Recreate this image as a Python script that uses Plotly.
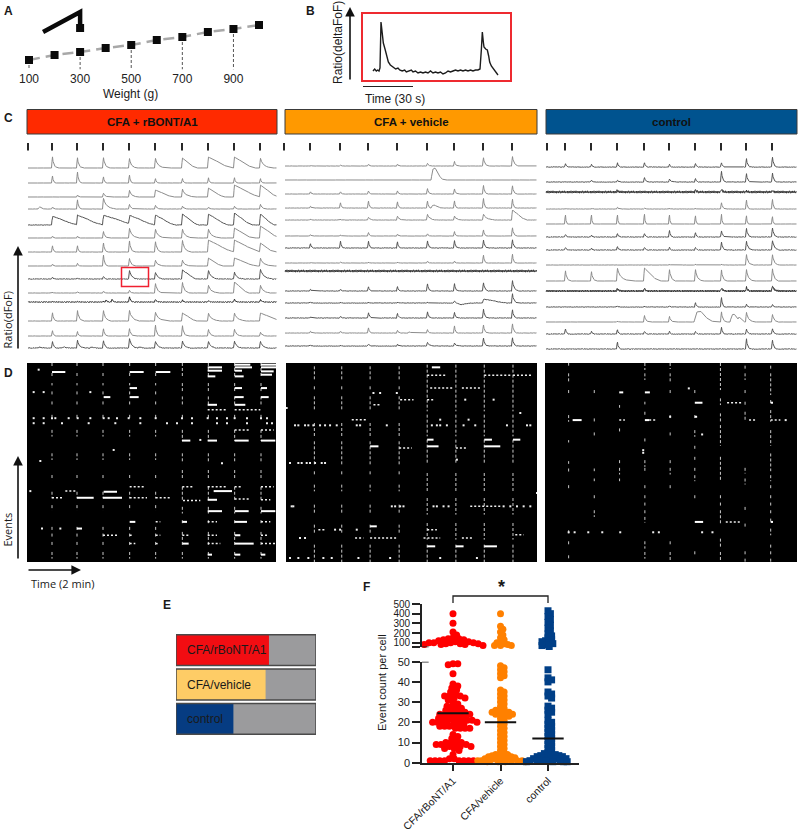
import numpy as np
import plotly.graph_objects as go

# ---------- panel A ----------
WEIGHTS = [100, 200, 300, 400, 500, 600, 700, 800, 900, 1000]
RESPONSE = [12, 17, 20, 24, 27, 32, 35, 40, 43, 47]
WEIGHT_TICKS = [100, 300, 500, 700, 900]
ICON_X = [155, 300, 300]
ICON_Y = [40, 60, 44]
ICON_SQUARE = (300, 44)

# ---------- panel B ----------
B_TIME = [6, 7, 8, 8.8, 9.6, 10.2, 10.8, 11.4, 12.2, 13.2, 14.2, 15.2, 16.4, 18.2, 19.6, 21, 22, 23.5, 25, 26, 27.5, 29, 30, 31.5,
          33, 34.5, 36, 37.5, 39, 40.5, 42, 43.5, 45, 46.5, 48, 49.5, 51, 52.5, 54, 55.5, 57, 58.5, 60, 61.5, 63, 64.5, 66, 67.5,
          69, 70.2, 71, 71.6, 72.2, 72.6, 73.6, 74.6, 75.4, 76, 77, 78, 79, 80, 81]
B_VALUE = [9, 11, 9, 10, 9, 12, 58, 47, 37, 31, 25, 18, 15, 13, 11, 12, 10, 9, 10, 8, 9, 10, 8, 9,
           7, 8, 7, 8, 7, 9, 7, 8, 7, 8, 6, 7, 9, 8, 9, 10, 9, 10, 9, 10, 9, 10, 9, 10,
           10, 11, 30, 48, 38, 33, 31, 30, 24, 18, 14, 12, 10, 7, 5]

# ---------- panel C: stimulus times, trace rows, transient sizes ----------
RED_STIMS = [28, 52, 77, 103, 129, 155, 182, 208, 234, 260]
RED_ROWS = [168, 183, 197, 209, 225, 238, 252, 266, 279, 293, 302, 321, 336, 348]
RED_AMPS = [
    [12, 11, 11, 10, 10, 10, 11, 11, 10],
    [8, 12, 7, 9, 5, 5, 6, 6, 5],
    [0, 2, 4, 7, 7, 8, 9, 12, 12],
    [2, 10, 11, 5, 4, 3, 2, 3, 5],
    [9, 10, 10, 10, 10, 11, 11, 12, 11],
    [2, 2, 7, 10, 9, 9, 9, 10, 12],
    [7, 7, 10, 12, 11, 12, 12, 12, 9],
    [2, 3, 12, 8, 6, 6, 8, 8, 8],
    [2, 1, 3, 9, 7, 9, 9, 7, 10],
    [1, 1, 2, 3, 10, 11, 8, 11, 8],
    [0.5, 0.5, 1, 6, 3, 2, 2, 3, 3],
    [9, 11, 11, 11, 9, 8, 8, 8, 8],
    [6, 5, 8, 8, 12, 11, 7, 7, 4],
    [7, 8, 8, 10, 7, 7, 7, 7, 7],
]
RED_WIDTHS = [
    [5, 5, 6, 7, 10, 14, 24, 20, 12],
    [3, 4, 3, 3, 3, 3, 3, 3, 3],
    [4, 4, 6, 8, 18, 12, 16, 26, 18],
    [4, 4, 12, 5, 5, 5, 4, 4, 6],
    [26, 26, 34, 26, 20, 16, 20, 18, 14],
    [3, 3, 5, 10, 10, 10, 12, 18, 20],
    [3, 3, 4, 5, 6, 8, 26, 26, 14],
    [3, 3, 4, 6, 8, 8, 14, 22, 12],
    [3, 3, 3, 8, 8, 14, 10, 9, 12],
    [3, 3, 3, 4, 7, 7, 10, 14, 10],
    [3, 3, 3, 4, 4, 4, 4, 4, 4],
    [4, 6, 7, 10, 12, 14, 12, 12, 22],
    [3, 3, 4, 5, 4, 5, 6, 7, 6],
    [4, 7, 5, 8, 8, 8, 8, 8, 8],
]
RED_NOISE = [.05, .05, .05, .1, .2, .05, .1, .05, .3, .1, .45, .1, .1, .3]
RED_BUMPS = [(3, 38, 2, 7), (10, 105, 2, 4), (10, 111, 2.5, 4), (13, 38, 1, 8), (13, 62, 1, 8), (13, 90, 1, 8), (13, 138, 1, 7)]

ORANGE_STIMS = [284, 310, 340, 368, 397, 427, 454, 483, 512]
ORANGE_ROWS = [166, 180, 194, 208, 220, 236, 248, 263, 271, 291, 303, 318, 333, 346]
ORANGE_AMPS = [
    [1, 1, 2, 2, 3, 5, 9, 10],
    [0, 0, 0, 0, 0, 0, 0, 0],
    [2.5, 2.5, 3.5, 3.5, 6, 5.5, 9.5, 9],
    [2, 6, 8, 7, 8, 8, 11, 10],
    [1, 1, 3, 4, 6, 4, 6, 10],
    [1.5, 1.5, 4, 2, 2.5, 5, 7, 9],
    [5, 8, 8, 7, 8, 8, 9, 9],
    [1, 1, 1, 1, 2, 2, 9, 10],
    [0, 0, 0, 0, 0, 0, 0, 0],
    [2, 2, 5, 5, 8, 8, 9, 11],
    [1, 1, 1, 1, 1, 2, 4, 10],
    [1, 2, 6, 5, 7, 6, 10, 9],
    [2, 2, 6, 3, 4, 8, 9, 10],
    [1, 1, 2, 2, 4, 3, 9, 9],
]
ORANGE_WIDTHS = [
    [3, 3, 3, 3, 4, 4, 5, 6],
    [3, 3, 3, 3, 3, 3, 3, 3],
    [3, 3, 3, 3, 4, 4, 4, 4],
    [3, 3, 3, 3, 3, 3, 3, 3],
    [3, 3, 6, 6, 8, 8, 12, 14],
    [3, 3, 3, 3, 3, 3, 3, 4],
    [3, 3, 3, 3, 4, 4, 4, 4],
    [3, 3, 3, 3, 3, 3, 3, 3],
    [3, 3, 3, 3, 3, 3, 3, 3],
    [3, 3, 3, 3, 4, 4, 5, 6],
    [3, 3, 3, 3, 3, 3, 24, 5],
    [3, 3, 4, 4, 4, 4, 4, 4],
    [3, 3, 3, 3, 3, 3, 4, 4],
    [3, 3, 3, 3, 6, 6, 4, 4],
]
ORANGE_NOISE = [.1, .03, .1, .15, .15, .08, .25, .1, 1.2, .2, .2, .25, .15, .2]
ORANGE_BUMPS = [(1, 431, 12, 14), (3, 431, 3, 12), (10, 457, -1.5, 18), (12, 408, 1, 6)]

BLUE_STIMS = [547, 565, 591, 617, 644, 669, 695, 721, 746, 772]
BLUE_ROWS = [167, 182, 192, 209, 224, 237, 250, 265, 281, 291, 307, 322, 334, 349]
BLUE_AMPS = [
    [4, 3, 5, 5, 3, 4, 5, 9, 11],
    [0, 2, 2, 5, 3, 4, 12, 9, 10],
    [0, 0, 2, 0, 0, 3, 4, 1, 2],
    [1, 1, 2, 1, 1, 1, 7, 10, 11],
    [11, 11, 11, 12, 11, 10, 12, 10, 9],
    [3, 2, 4, 4, 7, 5, 7, 9, 10],
    [3, 2, 4, 3, 3, 3, 9, 9, 10],
    [0, 0, 0, 0, 1, 1, 1, 11, 11],
    [11, 10, 13, 13, 12, 12, 12, 12, 13],
    [0, 0, 3, 3, 0, 0, 4, 4, 6],
    [0, 0, 1, 1, 1, 5, 11, 3, 3],
    [0, 0, 1, 7, 6, 0, 11, 10, 8],
    [6, 3, 5, 3, 3, 3, 8, 5, 6],
    [0, 0, 8, 0, 0, 0, 0, 11, 10],
]
BLUE_WIDTHS = [
    [3, 3, 3, 3, 3, 3, 3, 4, 4],
    [3, 3, 4, 4, 6, 3, 4, 4, 4],
    [3, 3, 3, 3, 3, 3, 3, 3, 3],
    [3, 3, 3, 3, 3, 3, 4, 3, 3],
    [2, 2, 2, 2, 2, 2, 2, 2, 2],
    [3, 3, 3, 3, 4, 3, 4, 5, 5],
    [3, 3, 3, 3, 3, 3, 4, 6, 7],
    [3, 3, 3, 3, 3, 3, 3, 6, 6],
    [5, 5, 13, 15, 6, 7, 5, 7, 6],
    [3, 3, 4, 4, 3, 3, 4, 4, 6],
    [3, 3, 3, 3, 3, 3, 3, 3, 3],
    [3, 3, 3, 5, 5, 3, 5, 8, 6],
    [3, 3, 3, 3, 3, 3, 3, 5, 4],
    [3, 3, 3, 3, 3, 3, 3, 4, 4],
]
BLUE_NOISE = [.25, .2, 1.2, .15, .05, .3, .3, .1, .05, 1, .2, .05, .3, .3]
BLUE_BUMPS = [(11, 694, 11, 22), (11, 730, 8, 14), (11, 738, 3, 8)]

WOBBLE = [.3, -.6, .9, -.2, -1, .5, 1, -.7, .1, .8, -.9, .4, -.3, .7, -1, .2, .9, -.5, -.1, .6, -.8, 1, -.4]
SHARP_T, SHARP_Y = [0, .12, .3, .55, 1], [1, .55, .3, .12, 0]
BROAD_T, BROAD_Y = [0, .1, .35, .7, 1], [1, .88, .62, .2, 0]
BUMP_T, BUMP_Y = [0, .12, .3, .5, .75, 1], [0, .9, 1, .5, .1, 0]

# ---------- panel D: frame, cell (image frame units) ----------
D1_COLS = [155, 230, 308, 388, 466, 546, 624, 703, 782]
D1_EARLY = [(25, 40), (55, 70), (85, 92), (110, 120), (140, 150), (180, 195), (225, 245), (295, 315), (360, 375), (410, 430),
            (450, 465), (515, 525), (535, 545), (560, 570), (590, 610)]
D1_LATE = [(25, 70), (85, 110), (125, 155), (180, 195), (225, 258), (295, 325), (345, 375), (395, 435), (455, 475), (495, 505),
           (530, 575), (590, 610)]
D1_SOLID = [(155, 195, 52), (388, 430, 52), (466, 510, 52), (622, 665, 38), (703, 755, 38), (782, 827, 38), (703, 750, 30),
            (782, 827, 30), (622, 665, 48), (703, 725, 48), (782, 820, 50), (622, 645, 65), (703, 730, 65), (782, 815, 60),
            (388, 410, 100), (782, 800, 100), (703, 725, 100), (388, 415, 127), (310, 330, 127), (703, 730, 127), (782, 805, 127),
            (622, 650, 150), (703, 735, 150), (545, 570, 257), (622, 650, 257), (703, 745, 257), (782, 825, 257),
            (640, 695, 408), (230, 280, 428), (308, 365, 428), (310, 350, 410), (622, 650, 434), (622, 665, 468),
            (703, 745, 468), (782, 825, 468), (388, 405, 500), (546, 560, 500), (703, 740, 500), (230, 245, 520),
            (703, 720, 540), (703, 760, 565), (546, 565, 565), (703, 720, 598), (622, 635, 598), (782, 795, 598)]
D1_DOTTED = [(155, 185, 428), (388, 440, 428), (466, 510, 428), (548, 600, 436), (703, 750, 432), (782, 810, 434),
             (195, 225, 408), (388, 430, 395), (546, 580, 395), (622, 680, 395), (703, 725, 395), (782, 820, 395),
             (308, 350, 540), (388, 400, 540), (466, 480, 540), (546, 565, 540), (622, 650, 540), (782, 800, 540),
             (388, 405, 565), (466, 475, 565), (622, 660, 565), (782, 825, 565), (622, 680, 165), (703, 780, 165),
             (782, 820, 225), (466, 480, 500), (622, 650, 500), (782, 810, 500), (703, 745, 225)]
D1_DOT_X = [100, 130, 155, 165, 205, 232, 270, 310, 325, 350, 385, 420, 466, 545, 575, 622, 650, 680, 703, 740, 782, 800,
            100, 130, 185, 265, 345, 420, 500, 530, 575, 650, 680, 740, 800, 815, 115, 120, 180, 90, 125, 340, 600, 665, 100, 130, 270]
D1_DOT_Y = [190, 190, 190, 190, 190, 190, 190, 190, 190, 190, 190, 190, 190, 190, 190, 190, 190, 190, 190, 190, 190, 190,
            205, 205, 205, 205, 205, 205, 205, 205, 205, 205, 205, 205, 205, 205, 45, 318, 520, 408, 520, 285, 255, 325, 112, 112, 112]

D2_COLS = [103, 185, 270, 357, 441, 527, 612, 698]
D2_EARLY = [(25, 70), (85, 100), (115, 155), (195, 235), (250, 320), (340, 350), (380, 400), (440, 470), (500, 530), (560, 612)]
D2_LATE = [(20, 120), (125, 160), (170, 235), (245, 320), (345, 400), (420, 470), (495, 545), (560, 612)]
D2_SOLID = [(455, 480, 28), (612, 635, 245), (441, 460, 245), (698, 720, 245), (270, 295, 265), (441, 475, 265), (612, 660, 265),
            (270, 290, 505), (527, 550, 565), (612, 650, 565), (441, 465, 565)]
D2_DOTTED = [(441, 500, 52), (612, 690, 52), (698, 755, 52), (450, 520, 90), (545, 600, 90), (357, 395, 270), (527, 560, 270),
             (570, 660, 445), (115, 135, 515), (225, 250, 540), (270, 350, 540), (430, 480, 540), (545, 580, 540), (705, 730, 530),
             (215, 260, 185), (441, 465, 125), (360, 400, 125), (280, 300, 140), (441, 470, 515)]
D2_DOT_X = [30, 55, 65, 80, 90, 105, 125, 135, 45, 55, 75, 85, 100, 120, 135, 150, 170, 230, 240, 320, 455, 470, 480, 500, 550, 585,
            680, 740, 750, 35, 40, 335, 345, 360, 370, 460, 470, 490, 505, 670, 690, 710, 730, 750, 30, 55, 85, 130, 155, 235, 330, 480,
            590, 60, 75, 530, 280, 300, 350, 640, 555, 165, 180, 230, 20, 480, 565, 720, 770]
D2_DOT_Y = [315, 315, 315, 315, 315, 315, 315, 315, 202, 202, 202, 202, 202, 202, 202, 202, 202, 202, 202, 202, 202, 202, 202, 202, 202, 202,
            202, 202, 202, 445, 445, 445, 445, 445, 445, 445, 445, 445, 445, 445, 445, 445, 445, 445, 600, 600, 600, 600, 600, 600, 600, 600,
            600, 540, 540, 305, 105, 105, 105, 125, 125, 515, 515, 515, 150, 185, 185, 165, 405]

D3_STREAKS = {
    86: [(14, 22), (45, 70), (95, 105), (170, 190), (245, 252), (308, 316), (330, 345), (380, 390), (515, 525), (548, 557), (590, 600)],
    163: [(95, 105), (180, 190), (222, 232), (330, 338), (360, 368), (410, 420), (455, 475)],
    239: [(140, 148), (210, 222), (305, 315), (328, 348), (360, 368)],
    315: [(14, 35), (45, 65), (130, 138), (160, 175), (240, 252), (305, 325), (328, 340), (380, 390), (410, 420), (432, 442),
          (455, 465), (475, 492), (548, 570), (580, 600)],
    391: [(14, 32), (45, 75), (95, 105), (170, 180), (222, 232), (305, 315), (328, 348), (380, 390), (548, 558), (580, 608)],
    465: [(95, 105), (170, 180), (215, 235), (262, 275), (295, 305), (328, 338), (350, 368), (410, 420), (578, 588)],
    542: [(14, 95), (120, 140), (165, 190), (200, 262), (295, 368), (410, 420), (432, 442), (455, 495), (540, 570), (580, 610)],
    616: [(22, 32), (45, 65), (95, 110), (130, 140), (160, 190), (328, 345), (360, 378), (445, 455), (495, 505), (578, 590), (600, 610)],
    693: [(22, 32), (45, 110), (125, 140), (155, 190), (215, 262), (285, 338), (350, 368), (380, 390), (410, 420), (432, 442),
          (455, 465), (480, 495), (510, 530), (558, 570), (578, 590), (600, 610)],
}
D3_SOLID = [(238, 250, 102), (315, 330, 102), (465, 488, 133), (98, 125, 185), (315, 328, 185), (465, 472, 175), (465, 490, 490),
            (693, 700, 133), (693, 700, 490)]
D3_DOTTED = [(562, 605, 133), (238, 255, 185), (328, 352, 185), (628, 648, 185), (693, 722, 185), (558, 603, 490)]
D3_DOT_X = [86, 104, 145, 187, 241, 340, 357, 487, 518, 310, 310, 447, 487, 738, 391]
D3_DOT_Y = [521, 521, 521, 521, 521, 521, 521, 521, 521, 275, 283, 90, 228, 185, 175]

# ---------- panel E ----------
E_GROUPS = ["CFA/rBoNT/A1", "CFA/vehicle", "control"]
E_RESPONDING = [66.4, 64, 41]
E_TOTAL = [100, 100, 100]
E_COLORS = ["#F20D12", "#FECC66", "#063C82"]

# ---------- panel F ----------
F_LABELS = ["CFA/rBoNT/A1", "CFA/vehicle", "control"]
F_MEANS = [24.5, 20, 12]
F_RED = [400, 300, 210, 180, 150, 140, 140, 130, 130, 120, 110, 110, 100, 100, 100, 100, 90, 90, 90, 80, 80, 80, 70, 70,
         49, 49, 48.5, 44, 39, 38, 37, 36, 35, 34, 33, 33, 33, 32, 32, 31, 30, 29, 28, 28, 27, 27, 26, 26, 25, 25, 25, 24, 24, 24, 24,
         23, 23, 23, 22, 22, 22, 21, 21, 21, 21, 21, 20, 20, 20, 20, 20, 19, 19, 19, 18, 18, 18, 17, 17, 17, 17, 14, 13, 12, 11, 10, 10,
         10, 9, 9, 9, 9, 8, 8, 8, 7, 7, 6, 4, 2, 2, 1, 1, 1, 1, 1, 1, 1, 1]
F_ORANGE = [400, 270, 240, 210, 180, 150, 130, 110, 100, 90, 80, 70, 70, 70,
            48, 47, 46, 45, 44, 43, 42, 36, 35, 34, 33, 32, 31, 30, 29, 28, 27, 26, 26, 25, 25, 25, 24, 24, 24, 23, 23, 22, 21, 20, 19, 18,
            17, 16, 15, 14, 13, 12, 11, 10, 9, 8, 7, 6, 5, 4, 4, 4, 3.5, 3, 3, 3, 2.5, 2.5, 2, 2, 2, 1.5, 1.5, 1, 1, 1, 1, 1, 0.5, 0.5, 0.5, 0.5]
F_BLUE = [430, 400, 370, 340, 310, 280, 250, 220, 190, 170, 150, 130, 120, 110, 100, 90, 80, 70, 60,
          46, 42, 41, 40, 35, 34, 33, 32, 28, 27, 26, 25, 24, 21, 20, 19, 18, 17, 16, 15, 14, 13, 12, 11, 10, 9, 8, 7, 6, 5, 4.5, 4, 4, 3.5, 3.5,
          3, 3, 3, 2.5, 2.5, 2, 2, 2, 1.5, 1.5, 1, 1, 1, 1, 0.5, 0.5, 0.5, 0.5]
F_SWARM_DIST = [4.2, 3.6, 3.2]

FONT = "Liberation Sans"
W, H = 798, 832
layout = dict(width=W, height=H, margin=dict(l=0, r=0, t=0, b=0, pad=0, autoexpand=False), showlegend=False, paper_bgcolor="white",
              plot_bgcolor="rgba(0,0,0,0)", barmode="overlay", bargap=0.1, font=dict(family=FONT, size=12, color="#1a1a1a"))
fig = go.Figure()
annotations, shapes = [], []
axis_count = [0]


def axes(x0, x1, y0, y1, xrange, yrange, xopts=None, yopts=None):
    axis_count[0] += 1
    n = axis_count[0]
    xa, ya = ("x%d" % n, "y%d" % n)
    base = dict(showgrid=False, zeroline=False, showticklabels=False, ticks="", showline=False)
    layout["xaxis%d" % n] = {**base, "domain": [x0 / W, x1 / W], "range": xrange, "anchor": ya, **(xopts or {})}
    layout["yaxis%d" % n] = {**base, "domain": [1 - y1 / H, 1 - y0 / H], "range": yrange, "anchor": xa, **(yopts or {})}
    return xa, ya


def text(px, py, s, size=12, bold=False, angle=0, anchor="center", color="#1a1a1a", family=FONT):
    annotations.append(dict(xref="paper", yref="paper", x=px / W, y=1 - py / H, text=("<b>%s</b>" % s) if bold else s,
                            showarrow=False, xanchor=anchor, yanchor="middle", textangle=angle,
                            font=dict(size=size, color=color, family=family)))


def arrow(x0, y0, x1, y1, width=1.6):
    annotations.append(dict(xref="paper", yref="paper", x=x1 / W, y=1 - y1 / H, ax=x0 - x1, ay=y0 - y1, axref="pixel", ayref="pixel",
                            text="", showarrow=True, arrowhead=2, arrowsize=1.2, arrowwidth=width, arrowcolor="#111"))


for label, px, py in [("A", 8, 11), ("B", 310, 11), ("C", 8, 118), ("D", 8, 373), ("E", 167, 605), ("F", 366, 587)]:
    text(px, py, label, size=12, bold=True)

# ----- A -----
xa, ya = axes(15, 275, 5, 69.5, [45.2, 1062.6], [2.5, 67],
              dict(showticklabels=True, tickvals=WEIGHT_TICKS, ticks="", ticklen=0, tickfont=dict(size=12, color="#222", family=FONT)))
for w, r in zip(WEIGHTS, RESPONSE):
    if w in WEIGHT_TICKS:
        fig.add_trace(go.Scatter(x=[w, w], y=[r, 2.5], mode="lines", line=dict(color="#555", width=1, dash="3px,2px"), xaxis=xa, yaxis=ya))
fig.add_trace(go.Scatter(x=WEIGHTS, y=RESPONSE, mode="lines", line=dict(color="#a8a8a8", width=2.5, dash="11px,6px"), xaxis=xa, yaxis=ya))
fig.add_trace(go.Scatter(x=WEIGHTS, y=RESPONSE, mode="markers", marker=dict(symbol="square", size=8, color="#0a0a0a"), xaxis=xa, yaxis=ya))
fig.add_trace(go.Scatter(x=ICON_X, y=ICON_Y, mode="lines", line=dict(color="#0a0a0a", width=4.5), xaxis=xa, yaxis=ya))
fig.add_trace(go.Scatter(x=[ICON_SQUARE[0]], y=[ICON_SQUARE[1]], mode="markers", marker=dict(symbol="square", size=8, color="#0a0a0a"), xaxis=xa, yaxis=ya))
text(130, 94, "Weight (g)", size=12)

# ----- B -----
xa, ya = axes(363, 510, 14, 80, [0, 88.2], [0, 66],
              dict(showline=True, mirror=True, linecolor="#EE2A30", linewidth=1.5),
              dict(showline=True, mirror=True, linecolor="#EE2A30", linewidth=1.5))
fig.add_trace(go.Scatter(x=B_TIME, y=B_VALUE, mode="lines", line=dict(color="#1c1c1c", width=1.4), xaxis=xa, yaxis=ya))
arrow(350, 81, 350, 7)
text(338, 43, "Ratio(deltaFoF)", size=12, angle=-90)
shapes.append(dict(type="line", xref="paper", yref="paper", x0=363 / W, x1=413 / W, y0=1 - 86.5 / H, y1=1 - 86.5 / H, line=dict(color="#222", width=1.2)))
text(363, 98.5, "Time (30 s)", size=12, anchor="left")

# ----- C -----
for x0, x1, col, lab in [(27, 277, "#FF2A00", "CFA + rBONT/A1"), (285, 537, "#FF9900", "CFA + vehicle"), (546, 797, "#00538F", "control")]:
    shapes.append(dict(type="rect", xref="paper", yref="paper", x0=x0 / W, x1=x1 / W, y0=1 - 134 / H, y1=1 - 109.5 / H,
                       fillcolor=col, line=dict(color="#3a3a3a", width=1)))
    text((x0 + x1) / 2, 122, lab, size=11.5, bold=True, color="#111")

xa, ya = axes(0, W, 140, 353, [0, W], [353, 140])


def signal(t, base, amps, widths, stims, bumps, noise):
    s = np.zeros_like(t)
    for st, a, w in zip(stims, amps, widths):
        if a == 0:
            continue
        tk, yk = (BROAD_T, BROAD_Y) if w >= 14 else (SHARP_T, SHARP_Y)
        rise = np.interp(t, [st - 0.5, st + 0.4], [0, 1])
        decay = np.interp(t, [st + 0.4 + v * w for v in tk], yk)
        s = np.maximum(s, a * rise * decay)
    for b_x, b_a, b_w in bumps:
        s = s + b_a * np.interp(t, [b_x + v * b_w for v in BUMP_T], BUMP_Y)
    wob = np.array([WOBBLE[i % len(WOBBLE)] for i in range(len(t))])
    return base - s + noise * wob


for stims, rows, amps, widths, noises, bumps, x0, x1 in [
    (RED_STIMS[1:], RED_ROWS, RED_AMPS, RED_WIDTHS, RED_NOISE, RED_BUMPS, 28, 277),
    (ORANGE_STIMS[1:], ORANGE_ROWS, ORANGE_AMPS, ORANGE_WIDTHS, ORANGE_NOISE, ORANGE_BUMPS, 285, 537),
    (BLUE_STIMS[1:], BLUE_ROWS, BLUE_AMPS, BLUE_WIDTHS, BLUE_NOISE, BLUE_BUMPS, 546, 797),
]:
    t = np.arange(x0, x1, 0.5)
    for i, row in enumerate(rows):
        b = [(bx, ba, bw) for (r, bx, ba, bw) in bumps if r == i]
        n = noises[i]
        color = "#333333" if n >= .4 else ("#555555" if n >= .2 else "#8c8c8c")
        fig.add_trace(go.Scatter(x=t, y=signal(t, row, amps[i], widths[i], stims, b, n), mode="lines",
                                 line=dict(color=color, width=1), xaxis=xa, yaxis=ya, hoverinfo="skip"))

for stims in (RED_STIMS, ORANGE_STIMS, BLUE_STIMS):
    tx, ty = [], []
    for s in stims:
        tx += [s, s, None]
        ty += [143, 150.5, None]
    fig.add_trace(go.Scatter(x=tx, y=ty, mode="lines", line=dict(color="#111", width=1.8), xaxis=xa, yaxis=ya))
shapes.append(dict(type="rect", xref=xa, yref=ya, x0=121.5, x1=148.5, y0=267.5, y1=286.5, line=dict(color="#F02030", width=1.5)))
arrow(18, 350, 18, 246)
text(6.5, 320, "Ratio(dFoF)", size=11, angle=-90, family="Open Sans")


# ----- D -----
def raster(px0, px1, xr, yr, cols_segments, solid, dotted, dx, dy):
    xa, ya = axes(px0, px1, 363, 562, xr, yr)
    shapes.append(dict(type="rect", xref=xa + " domain", yref=ya + " domain", x0=0, x1=1, y0=0, y1=1, fillcolor="black",
                       line=dict(width=0), layer="below"))
    vx, vy = [], []
    for col, segs in cols_segments:
        for a, b in segs:
            vx += [col, col, None]
            vy += [a, b, None]
    fig.add_trace(go.Scatter(x=vx, y=vy, mode="lines", line=dict(color="#e0e0e0", width=0.9, dash="3px,2px"), xaxis=xa, yaxis=ya, hoverinfo="skip"))
    sx, sy = [], []
    for a, b, c in solid:
        sx += [a, b, None]
        sy += [c, c, None]
    fig.add_trace(go.Scatter(x=sx, y=sy, mode="lines", line=dict(color="white", width=2), xaxis=xa, yaxis=ya, hoverinfo="skip"))
    sx, sy = [], []
    for a, b, c in dotted:
        sx += [a, b, None]
        sy += [c, c, None]
    fig.add_trace(go.Scatter(x=sx, y=sy, mode="lines", line=dict(color="#f0f0f0", width=1.5, dash="2px,2px"), xaxis=xa, yaxis=ya, hoverinfo="skip"))
    fig.add_trace(go.Scatter(x=dx, y=dy, mode="markers", marker=dict(symbol="square", size=2, color="#eeeeee", line=dict(width=0)), xaxis=xa, yaxis=ya, hoverinfo="skip"))


raster(27, 276, [80, 827], [620, 25], [(c, D1_EARLY if i < 5 else D1_LATE) for i, c in enumerate(D1_COLS)], D1_SOLID, D1_DOTTED, D1_DOT_X, D1_DOT_Y)
raster(286, 537, [18, 770], [612, 15], [(c, D2_EARLY if i < 4 else D2_LATE) for i, c in enumerate(D2_COLS)], D2_SOLID, D2_DOTTED, D2_DOT_X, D2_DOT_Y)
raster(545, 797, [15, 772], [610, 14], list(D3_STREAKS.items()), D3_SOLID, D3_DOTTED, D3_DOT_X, D3_DOT_Y)
arrow(18, 560, 18, 456)
text(6.5, 530, "Events", size=11, angle=-90, family="Open Sans")
arrow(27, 570, 81, 570)
text(29, 583, "Time (2 min)", size=11, anchor="left", family="Open Sans")

# ----- E -----
xa, ya = axes(176, 316, 633, 736, [0, 100], [2.5, -0.5])
fig.add_trace(go.Bar(y=[0, 1, 2], x=E_TOTAL, orientation="h", marker=dict(color="#9B9B9D", line=dict(width=0)), xaxis=xa, yaxis=ya))
fig.add_trace(go.Bar(y=[0, 1, 2], x=E_RESPONDING, orientation="h", marker=dict(color=E_COLORS, line=dict(width=0)), xaxis=xa, yaxis=ya))
fig.add_trace(go.Bar(y=[0, 1, 2], x=E_TOTAL, orientation="h", marker=dict(color="rgba(0,0,0,0)", line=dict(color="#4a4a4a", width=1.5)), xaxis=xa, yaxis=ya))
for i, g in enumerate(E_GROUPS):
    annotations.append(dict(xref=xa, yref=ya, x=6.5, y=i, text=g, showarrow=False, xanchor="left", font=dict(size=12, color="#1a1a1a", family=FONT)))


# ----- F -----
def swarm(values, min_dist, step=1.2):
    placed, out = [], []
    for v in values:
        py = v * 2.02 if v <= 50 else 120 + (v - 52) * 0.0975
        k = 0
        while True:
            off = ((k + 1) // 2) * step * (1 if k % 2 else -1)
            if all((off - a) ** 2 + (py - b) ** 2 >= min_dist ** 2 for a, b in placed):
                break
            k += 1
        placed.append((off, py))
        out.append(off / 47.5)
    return out


XR = [(422 - 453) / 47.5, (579 - 453) / 47.5]
tick_font = dict(size=11, color="#1a1a1a", family=FONT)
yline = dict(showline=True, linecolor="#222", linewidth=1.6, ticks="outside", ticklen=8, tickwidth=1.5, tickcolor="#222",
             showticklabels=True)
xlow, ylow = axes(422, 579, 661.7, 762.7, XR, [0, 50],
                  dict(showline=True, linecolor="#222", linewidth=1.6, ticks="outside", ticklen=6, tickwidth=1.5, tickcolor="#222",
                       tickvals=[0, 1, 2], ticktext=F_LABELS, showticklabels=True, tickangle=-45,
                       tickfont=dict(size=10.5, color="#1a1a1a", family=FONT)),
                  dict(tickvals=[0, 10, 20, 30, 40, 50], tickfont=tick_font, **yline))
xup, yup = axes(422, 579, 604, 647.3, XR, [52, 500], None,
                dict(tickvals=[52, 100, 200, 300, 400, 500], ticktext=["", "100", "200", "300", "400", "500"],
                     tickfont=dict(size=10, color="#1a1a1a", family=FONT), **yline))
for i, (vals, col, sym) in enumerate([(F_RED, "#FF0000", "circle"), (F_ORANGE, "#FF8000", "circle"), (F_BLUE, "#003F87", "square")]):
    off = swarm(vals, F_SWARM_DIST[i])
    hi = [v > 50 for v in vals]
    marker = dict(symbol=sym, size=7, color=col, line=dict(width=0))
    fig.add_trace(go.Scatter(x=[i + o for o, h in zip(off, hi) if h], y=[v for v, h in zip(vals, hi) if h], mode="markers", marker=marker, xaxis=xup, yaxis=yup, cliponaxis=False))
    fig.add_trace(go.Scatter(x=[i + o for o, h in zip(off, hi) if not h], y=[v for v, h in zip(vals, hi) if not h], mode="markers", marker=marker, xaxis=xlow, yaxis=ylow, cliponaxis=False))
    fig.add_trace(go.Scatter(x=[i - 0.33, i + 0.33], y=[F_MEANS[i]] * 2, mode="lines", line=dict(color="#111", width=2), xaxis=xlow, yaxis=ylow))
for ay_, yv in [(ylow, 50), (yup, 52)]:
    fig.add_trace(go.Scatter(x=[XR[0], XR[0] + 0.14], y=[yv, yv], mode="lines", line=dict(color="#222", width=1.5), xaxis=xlow if ay_ == ylow else xup, yaxis=ay_, cliponaxis=False))
text(382, 683, "Event count per cell", size=11, angle=-90)
bx0, bx1 = 453 / W, 548 / W
shapes.append(dict(type="path", xref="paper", yref="paper", path="M %f %f L %f %f L %f %f L %f %f" % (bx0, 1 - 603 / H, bx0, 1 - 596 / H, bx1, 1 - 596 / H, bx1, 1 - 603 / H), line=dict(color="#222", width=1.3)))
text(501, 587, "*", size=18, bold=True)

layout["annotations"] = annotations
layout["shapes"] = shapes
fig.update_layout(**layout)
fig.write_html("out.html", config=dict(displayModeBar=False), post_script="document.body.style.margin='0';document.body.style.overflow='hidden';")
